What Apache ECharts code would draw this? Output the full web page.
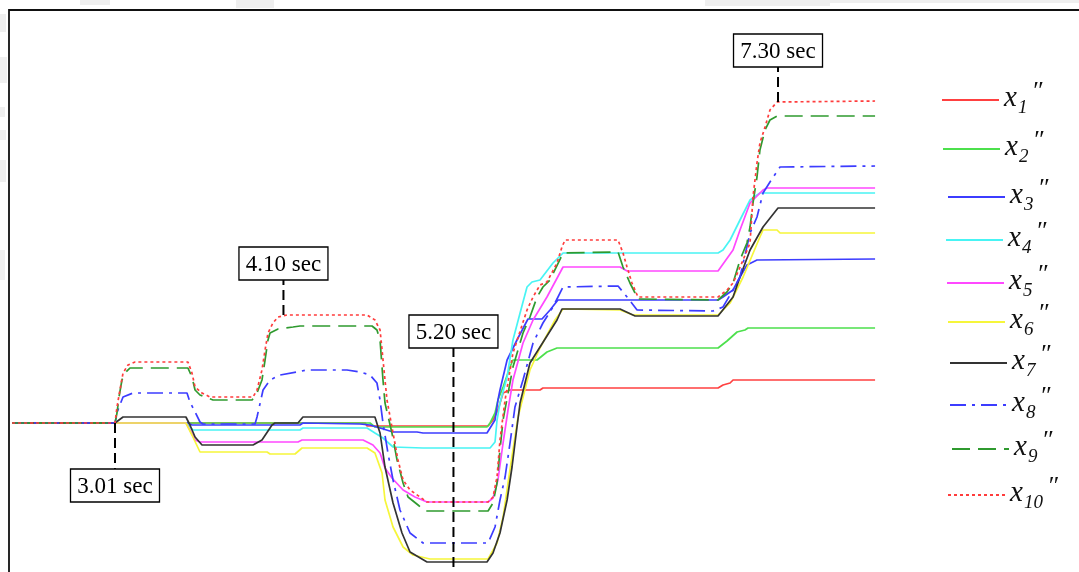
<!DOCTYPE html>
<html>
<head>
<meta charset="utf-8">
<script src="https://cdn.jsdelivr.net/npm/echarts@6/dist/echarts.min.js"></script>
<style>
  html, body { margin: 0; padding: 0; background: #fff; }
  #chart { width: 1079px; height: 572px; }
</style>
</head>
<body>
<div id="chart"></div>
<script>
// Response of the ten outputs over time: [time (s), value]
const x1 = [[2.344,0],[4.628,0],[4.641,-0.03],[5.424,-0.03],[5.456,0.03],[5.488,0.13],[5.521,0.30],[5.566,0.33],[5.760,0.33],[5.779,0.35],[6.912,0.35],[6.944,0.38],[6.990,0.40],[7.009,0.43],[7.928,0.43]];
const x2 = [[2.344,0],[4.660,0],[4.692,-0.04],[5.417,-0.04],[5.437,0],[5.469,0.10],[5.488,0.23],[5.521,0.36],[5.566,0.56],[5.585,0.63],[5.741,0.63],[5.805,0.71],[5.870,0.75],[6.912,0.75],[6.970,0.82],[7.035,0.91],[7.086,0.93],[7.106,0.95],[7.928,0.95]];
const x3 = [[2.344,0],[3.482,0],[3.508,-0.02],[4.207,-0.02],[4.226,0],[4.595,-0.01],[4.660,-0.02],[4.725,-0.05],[4.809,-0.09],[4.964,-0.09],[5.003,-0.10],[5.417,-0.10],[5.469,0.03],[5.488,0.23],[5.501,0.33],[5.547,0.63],[5.611,0.83],[5.682,1.04],[5.773,1.04],[5.825,1.13],[5.876,1.23],[6.912,1.23],[6.944,1.26],[7.009,1.33],[7.054,1.46],[7.099,1.58],[7.164,1.63],[7.171,1.64],[7.928,1.64]];
const x4 = [[2.344,0],[3.469,0],[3.515,-0.07],[4.207,-0.07],[4.226,-0.05],[4.641,-0.05],[4.692,-0.10],[4.744,-0.15],[4.809,-0.24],[5.003,-0.25],[5.437,-0.25],[5.469,-0.19],[5.482,0.03],[5.501,0.20],[5.547,0.46],[5.585,0.83],[5.631,1.10],[5.676,1.36],[5.708,1.41],[5.760,1.43],[5.844,1.60],[5.909,1.70],[6.912,1.70],[6.944,1.73],[6.990,1.83],[7.054,2.03],[7.119,2.23],[7.183,2.30],[7.928,2.30]];
const x5 = [[2.344,0],[3.469,0],[3.495,-0.07],[3.528,-0.17],[3.560,-0.19],[4.194,-0.19],[4.220,-0.17],[4.615,-0.17],[4.679,-0.22],[4.725,-0.30],[4.757,-0.45],[4.802,-0.55],[4.874,-0.67],[4.951,-0.74],[5.029,-0.79],[5.424,-0.79],[5.456,-0.75],[5.488,-0.57],[5.521,-0.20],[5.553,0.13],[5.585,0.43],[5.650,0.80],[5.715,1.03],[5.805,1.26],[5.909,1.56],[6.278,1.56],[6.323,1.52],[6.912,1.52],[7.009,1.73],[7.054,1.93],[7.119,2.20],[7.203,2.33],[7.229,2.35],[7.928,2.35]];
const x6 = [[2.344,0],[3.469,0],[3.508,-0.12],[3.560,-0.29],[3.994,-0.29],[4.013,-0.31],[4.175,-0.31],[4.220,-0.25],[4.641,-0.25],[4.692,-0.30],[4.738,-0.50],[4.757,-0.77],[4.809,-1.04],[4.874,-1.24],[4.938,-1.32],[5.048,-1.36],[5.424,-1.36],[5.482,-1.20],[5.521,-0.94],[5.553,-0.60],[5.585,-0.27],[5.618,0.06],[5.695,0.53],[5.760,0.75],[5.857,1.03],[5.909,1.14],[6.278,1.13],[6.362,1.08],[6.912,1.08],[6.990,1.20],[7.074,1.46],[7.183,1.86],[7.203,1.93],[7.294,1.93],[7.313,1.90],[7.928,1.90]];
const x7 = [[2.344,0],[3.010,0],[3.062,0.06],[3.469,0.06],[3.495,-0.02],[3.528,-0.14],[3.573,-0.22],[3.903,-0.22],[3.961,-0.17],[4.026,-0.02],[4.045,0],[4.194,0],[4.226,0.06],[4.692,0.06],[4.712,-0.04],[4.725,-0.10],[4.757,-0.44],[4.809,-0.80],[4.867,-1.10],[4.919,-1.29],[5.029,-1.39],[5.417,-1.39],[5.456,-1.30],[5.501,-1.10],[5.547,-0.77],[5.579,-0.44],[5.611,-0.04],[5.631,0.20],[5.695,0.60],[5.870,1.03],[5.902,1.14],[6.278,1.14],[6.375,1.07],[6.912,1.07],[7.009,1.26],[7.054,1.46],[7.119,1.73],[7.203,1.96],[7.300,2.15],[7.928,2.15]];
const x8 = [[2.344,0],[3.010,0],[3.029,0.13],[3.062,0.26],[3.127,0.30],[3.476,0.30],[3.495,0.21],[3.528,0.11],[3.560,0.01],[3.579,-0.01],[3.916,-0.01],[3.929,0.06],[3.968,0.33],[4.013,0.43],[4.078,0.48],[4.188,0.51],[4.252,0.53],[4.511,0.53],[4.595,0.51],[4.660,0.48],[4.705,0.40],[4.725,0.23],[4.744,0],[4.776,-0.30],[4.809,-0.57],[4.854,-0.87],[4.919,-1.10],[5.003,-1.20],[5.424,-1.20],[5.469,-1.04],[5.501,-0.77],[5.534,-0.54],[5.566,-0.20],[5.598,0.16],[5.650,0.43],[5.715,0.80],[5.779,1.00],[5.844,1.16],[5.909,1.36],[6.265,1.37],[6.323,1.26],[6.388,1.13],[6.879,1.12],[6.944,1.16],[7.009,1.33],[7.054,1.46],[7.119,1.90],[7.164,2.06],[7.203,2.30],[7.248,2.41],[7.313,2.56],[7.928,2.57]];
const x9 = [[2.344,0],[3.010,0],[3.023,0.10],[3.036,0.26],[3.055,0.43],[3.075,0.50],[3.107,0.55],[3.482,0.55],[3.508,0.46],[3.528,0.33],[3.560,0.28],[3.612,0.25],[3.644,0.23],[3.897,0.23],[3.929,0.30],[3.961,0.43],[3.981,0.63],[4.000,0.83],[4.013,0.90],[4.065,0.94],[4.162,0.96],[4.207,0.97],[4.673,0.97],[4.705,0.93],[4.725,0.83],[4.744,0.43],[4.757,0.20],[4.802,-0.10],[4.835,-0.37],[4.874,-0.60],[4.906,-0.74],[4.971,-0.82],[5.016,-0.88],[5.424,-0.88],[5.456,-0.80],[5.482,-0.60],[5.501,-0.27],[5.521,0.03],[5.585,0.56],[5.650,0.90],[5.695,1.06],[5.741,1.26],[5.779,1.36],[5.825,1.43],[5.909,1.70],[6.265,1.71],[6.297,1.56],[6.342,1.40],[6.375,1.30],[6.388,1.24],[6.912,1.23],[6.970,1.31],[7.009,1.40],[7.054,1.63],[7.099,1.80],[7.119,1.96],[7.138,2.20],[7.164,2.46],[7.183,2.73],[7.216,2.93],[7.248,3.03],[7.294,3.07],[7.928,3.07]];
const x10 = [[2.344,0],[3.010,0],[3.023,0.16],[3.042,0.33],[3.062,0.50],[3.094,0.58],[3.140,0.61],[3.482,0.61],[3.508,0.50],[3.528,0.36],[3.573,0.30],[3.625,0.26],[3.903,0.26],[3.929,0.33],[3.961,0.53],[3.981,0.73],[4.000,0.90],[4.032,1.00],[4.065,1.06],[4.123,1.08],[4.641,1.08],[4.692,1.03],[4.725,0.93],[4.738,0.73],[4.757,0.43],[4.770,0.23],[4.809,-0.10],[4.841,-0.37],[4.874,-0.57],[4.919,-0.67],[4.984,-0.74],[5.029,-0.79],[5.424,-0.79],[5.456,-0.74],[5.482,-0.54],[5.501,-0.17],[5.534,0.23],[5.585,0.70],[5.676,1.13],[5.715,1.26],[5.760,1.38],[5.805,1.41],[5.870,1.60],[5.902,1.76],[5.922,1.83],[6.265,1.83],[6.297,1.70],[6.323,1.56],[6.355,1.40],[6.394,1.26],[6.912,1.26],[6.970,1.33],[7.009,1.40],[7.074,1.63],[7.119,1.80],[7.138,2.26],[7.164,2.60],[7.183,2.80],[7.216,2.96],[7.248,3.13],[7.294,3.21],[7.928,3.22]];

// Event markers: time, span of the dashed guide (value units), caption
const eventTimes = [3.01, 4.10, 5.20, 7.30];
const eventFrom = [0, 1.08, -1.44, 3.21];
const eventTo = [-0.46, 1.43, 0.75, 3.56];
const eventLabels = ['3.01 sec', '4.10 sec', '5.20 sec', '7.30 sec'];

const seriesData = [x1, x2, x3, x4, x5, x6, x7, x8, x9, x10];
const subscripts = ['1','2','3','4','5','6','7','8','9','10'];
const colors = ['#ff4040', '#4ce04c', '#3c3cff', '#48f4f4', '#ff48ff', '#f6f63a', '#333333', '#3c3cff', '#2f9a2f', '#ff3c3c'];
const dashes = [null, null, null, null, null, null, null, [16, 6, 3, 6], [18, 8], [3, 3]];

// legend placement (px)
const legendY = [100, 149, 197, 240, 283, 322, 363, 405, 449, 495];
const legendX0 = [942, 943, 948, 946, 947, 948, 950, 950, 952, 948];
const legendLen = 57;

const chart = echarts.init(document.getElementById('chart'), null, { renderer: 'canvas' });

const lineSeries = seriesData.map((d, i) => ({
  name: 'x' + subscripts[i] + '\u2033',
  type: 'line',
  data: d,
  symbol: 'none',
  clip: false,
  z: 2 + i,
  lineStyle: {
    color: colors[i],
    width: 1.7,
    type: dashes[i] || 'solid'
  }
}));

const eventSeries = {
  type: 'custom',
  coordinateSystem: 'cartesian2d',
  clip: false,
  z: 20,
  data: eventTimes.map((t, i) => [t, eventFrom[i], eventTo[i]]),
  renderItem(params, api) {
    const i = params.dataIndex;
    const p0 = api.coord([api.value(0), api.value(1)]);
    const p1 = api.coord([api.value(0), api.value(2)]);
    const w = 89, h = 33;
    const below = p1[1] > p0[1];
    const bx = p1[0] - w / 2;
    const by = below ? p1[1] : p1[1] - h;
    return {
      type: 'group',
      children: [
        { type: 'line', shape: { x1: p0[0], y1: p0[1], x2: p1[0], y2: p1[1] },
          style: { stroke: '#000', lineWidth: 2, lineDash: [10, 5] } },
        { type: 'rect', shape: { x: bx, y: by, width: w, height: h },
          style: { fill: '#fff', stroke: '#000', lineWidth: 1.3 } },
        { type: 'text', x: bx + w / 2, y: by + h / 2 + 1,
          style: { text: eventLabels[i], fill: '#000', font: '23px "Liberation Serif", serif',
                   align: 'center', verticalAlign: 'middle' } }
      ]
    };
  }
};

// legend entries: sample line + italic x with subscript and double prime
const legendGraphics = [];
seriesData.forEach((d, i) => {
  const y = legendY[i];
  const xa = legendX0[i];
  const xb = xa + legendLen;
  const sub = subscripts[i];
  legendGraphics.push({
    type: 'line', silent: true,
    shape: { x1: xa, y1: y, x2: xb, y2: y },
    style: { stroke: colors[i], lineWidth: 2, lineDash: dashes[i] || null }
  });
  legendGraphics.push({
    type: 'text', x: xb + 5, y: y - 2,
    style: { text: 'x', font: 'italic 29px "Liberation Serif", serif', fill: '#111',
             align: 'left', verticalAlign: 'middle' }
  });
  legendGraphics.push({
    type: 'text', x: xb + 19, y: y + 8,
    style: { text: sub, font: 'italic 19px "Liberation Serif", serif', fill: '#111',
             align: 'left', verticalAlign: 'middle' }
  });
  legendGraphics.push({
    type: 'text', x: xb + 19 + 9.5 * sub.length + 4, y: y - 8,
    style: { text: '\u2033', font: 'italic 26px "Liberation Serif", serif', fill: '#111',
             align: 'left', verticalAlign: 'middle' }
  });
});

// faint marks in the outer margin and the plot frame
const marginMarks = [
  [80, 0, 30, 5], [236, 0, 38, 8], [705, 0, 125, 6], [830, 0, 249, 3],
  [0, 14, 6, 18], [0, 57, 7, 26], [0, 107, 5, 10], [0, 130, 6, 10], [0, 160, 6, 22], [0, 250, 5, 30]
].map(r => ({
  type: 'rect', silent: true, z: -1,
  shape: { x: r[0], y: r[1], width: r[2], height: r[3] },
  style: { fill: '#efefef' }
}));

chart.setOption({
  animation: false,
  backgroundColor: '#ffffff',
  grid: { left: 5.265, width: 880.935, top: 43, height: 525, containLabel: false },
  xAxis: {
    type: 'value', min: 2.3, max: 8.0, show: false,
    splitLine: { show: false }
  },
  yAxis: {
    type: 'value', min: -1.45, max: 3.8, show: false,
    splitLine: { show: false }
  },
  series: lineSeries.concat([eventSeries]),
  graphic: marginMarks.concat([
    { type: 'rect', silent: true, z: 100,
      shape: { x: 9, y: 10, width: 1100, height: 600 },
      style: { fill: null, stroke: '#111', lineWidth: 1.8 } }
  ]).concat(legendGraphics)
});
</script>
</body>
</html>
